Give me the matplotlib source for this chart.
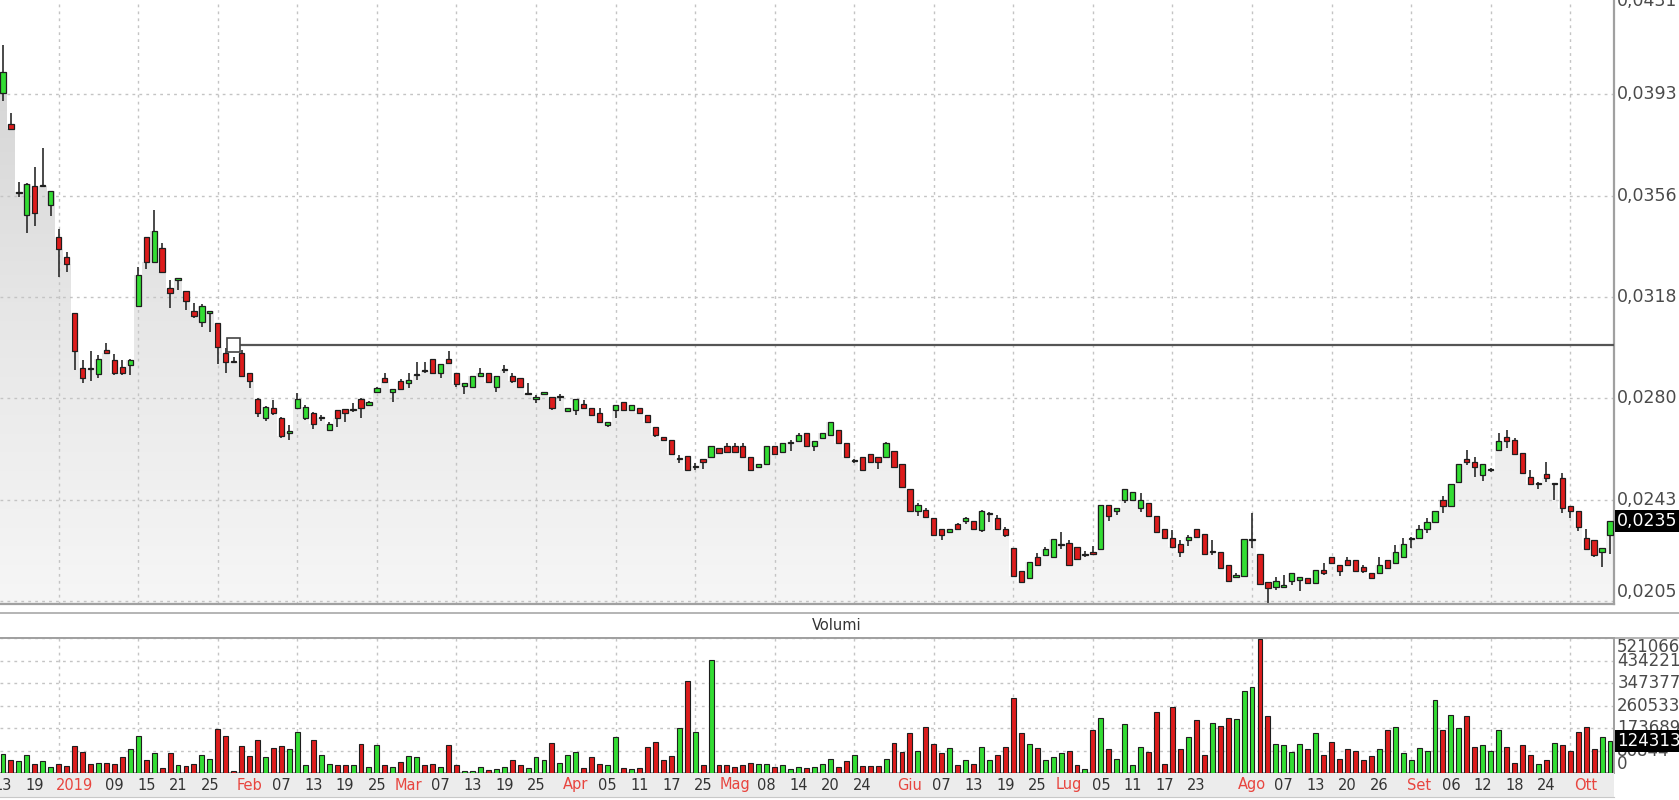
import numpy as np
import matplotlib
matplotlib.use("Agg")
import matplotlib.pyplot as plt
import matplotlib.transforms as mtransforms
from matplotlib.patches import Rectangle
from matplotlib.colors import LinearSegmentedColormap

plt.rcParams['font.family'] = ['DejaVu Sans']

# ---------------- data ----------------
opens = [
    0.03939, 0.03824, 0.03570, 0.03486, 0.03594, 0.03594, 0.03524, 0.03404, 0.03332, 0.03122,
    0.02920, 0.02920, 0.02896, 0.02985, 0.02948, 0.02921, 0.02930, 0.03149, 0.03404, 0.03314,
    0.03363, 0.03217, 0.03246, 0.03206, 0.03132, 0.03091, 0.03122, 0.03085, 0.02976, 0.02942,
    0.02976, 0.02901, 0.02802, 0.02734, 0.02771, 0.02734, 0.02679, 0.02771, 0.02734, 0.02753,
    0.02733, 0.02688, 0.02763, 0.02766, 0.02762, 0.02802, 0.02781, 0.02831, 0.02883, 0.02831,
    0.02872, 0.02862, 0.02891, 0.02909, 0.02951, 0.02899, 0.02951, 0.02901, 0.02853, 0.02849,
    0.02890, 0.02901, 0.02849, 0.02910, 0.02890, 0.02880, 0.02821, 0.02802, 0.02824, 0.02812,
    0.02811, 0.02760, 0.02763, 0.02785, 0.02772, 0.02753, 0.02707, 0.02763, 0.02794, 0.02763,
    0.02772, 0.02743, 0.02701, 0.02664, 0.02651, 0.02579, 0.02592, 0.02551, 0.02579, 0.02587,
    0.02620, 0.02630, 0.02630, 0.02630, 0.02589, 0.02550, 0.02561, 0.02630, 0.02608, 0.02641,
    0.02649, 0.02678, 0.02629, 0.02660, 0.02670, 0.02688, 0.02639, 0.02572, 0.02589, 0.02599,
    0.02589, 0.02589, 0.02610, 0.02561, 0.02468, 0.02389, 0.02391, 0.02360, 0.02319, 0.02309,
    0.02339, 0.02350, 0.02350, 0.02317, 0.02375, 0.02360, 0.02320, 0.02249, 0.02166, 0.02137,
    0.02218, 0.02224, 0.02215, 0.02260, 0.02267, 0.02255, 0.02225, 0.02236, 0.02245, 0.02410,
    0.02389, 0.02428, 0.02428, 0.02397, 0.02418, 0.02369, 0.02319, 0.02289, 0.02265, 0.02280,
    0.02319, 0.02302, 0.02235, 0.02236, 0.02187, 0.02141, 0.02146, 0.02278, 0.02226, 0.02125,
    0.02106, 0.02107, 0.02128, 0.02133, 0.02137, 0.02119, 0.02168, 0.02215, 0.02187, 0.02205,
    0.02205, 0.02178, 0.02158, 0.02156, 0.02205, 0.02195, 0.02218, 0.02282, 0.02289, 0.02319,
    0.02348, 0.02428, 0.02406, 0.02496, 0.02581, 0.02571, 0.02521, 0.02538, 0.02616, 0.02661,
    0.02651, 0.02602, 0.02512, 0.02489, 0.02524, 0.02489, 0.02511, 0.02406, 0.02389, 0.02289,
    0.02280, 0.02236, 0.02298]

highs = [
    0.04119, 0.03867, 0.03611, 0.03607, 0.03667, 0.03735, 0.03576, 0.03435, 0.03351, 0.03122,
    0.02948, 0.02983, 0.02967, 0.03010, 0.02971, 0.02948, 0.02951, 0.03293, 0.03407, 0.03506,
    0.03382, 0.03246, 0.03254, 0.03206, 0.03159, 0.03156, 0.03132, 0.03085, 0.02992, 0.02961,
    0.02985, 0.02901, 0.02806, 0.02777, 0.02800, 0.02736, 0.02707, 0.02825, 0.02781, 0.02756,
    0.02744, 0.02719, 0.02763, 0.02766, 0.02790, 0.02806, 0.02797, 0.02849, 0.02899, 0.02841,
    0.02877, 0.02899, 0.02940, 0.02940, 0.02951, 0.02932, 0.02983, 0.02901, 0.02862, 0.02890,
    0.02917, 0.02901, 0.02890, 0.02930, 0.02899, 0.02880, 0.02862, 0.02818, 0.02831, 0.02812,
    0.02822, 0.02772, 0.02802, 0.02800, 0.02772, 0.02769, 0.02719, 0.02781, 0.02794, 0.02781,
    0.02772, 0.02743, 0.02701, 0.02664, 0.02651, 0.02595, 0.02592, 0.02564, 0.02579, 0.02630,
    0.02620, 0.02639, 0.02639, 0.02639, 0.02589, 0.02562, 0.02630, 0.02630, 0.02641, 0.02651,
    0.02678, 0.02678, 0.02649, 0.02678, 0.02717, 0.02688, 0.02639, 0.02579, 0.02589, 0.02599,
    0.02589, 0.02645, 0.02610, 0.02561, 0.02468, 0.02416, 0.02397, 0.02360, 0.02319, 0.02319,
    0.02344, 0.02366, 0.02350, 0.02391, 0.02385, 0.02372, 0.02329, 0.02249, 0.02166, 0.02197,
    0.02233, 0.02252, 0.02282, 0.02311, 0.02280, 0.02255, 0.02240, 0.02257, 0.02410, 0.02410,
    0.02397, 0.02468, 0.02459, 0.02455, 0.02418, 0.02369, 0.02319, 0.02317, 0.02280, 0.02298,
    0.02319, 0.02302, 0.02280, 0.02236, 0.02187, 0.02158, 0.02282, 0.02379, 0.02226, 0.02125,
    0.02143, 0.02150, 0.02156, 0.02141, 0.02137, 0.02168, 0.02193, 0.02215, 0.02187, 0.02218,
    0.02205, 0.02187, 0.02158, 0.02215, 0.02205, 0.02261, 0.02286, 0.02292, 0.02335, 0.02360,
    0.02389, 0.02443, 0.02486, 0.02561, 0.02616, 0.02589, 0.02562, 0.02548, 0.02676, 0.02688,
    0.02657, 0.02602, 0.02540, 0.02496, 0.02571, 0.02490, 0.02530, 0.02406, 0.02389, 0.02319,
    0.02280, 0.02249, 0.02350]

lows = [
    0.03912, 0.03803, 0.03555, 0.03419, 0.03447, 0.03590, 0.03485, 0.03256, 0.03274, 0.02911,
    0.02862, 0.02872, 0.02880, 0.02973, 0.02893, 0.02893, 0.02893, 0.03147, 0.03285, 0.03308,
    0.03274, 0.03143, 0.03208, 0.03134, 0.03103, 0.03072, 0.03054, 0.02934, 0.02901, 0.02938,
    0.02886, 0.02843, 0.02738, 0.02723, 0.02744, 0.02657, 0.02651, 0.02769, 0.02725, 0.02691,
    0.02722, 0.02688, 0.02701, 0.02719, 0.02756, 0.02732, 0.02777, 0.02825, 0.02862, 0.02794,
    0.02837, 0.02843, 0.02874, 0.02899, 0.02896, 0.02880, 0.02938, 0.02849, 0.02822, 0.02849,
    0.02890, 0.02868, 0.02831, 0.02901, 0.02862, 0.02843, 0.02821, 0.02787, 0.02821, 0.02763,
    0.02796, 0.02756, 0.02744, 0.02769, 0.02744, 0.02713, 0.02701, 0.02732, 0.02763, 0.02763,
    0.02750, 0.02719, 0.02664, 0.02651, 0.02595, 0.02564, 0.02540, 0.02540, 0.02542, 0.02587,
    0.02602, 0.02605, 0.02605, 0.02589, 0.02540, 0.02550, 0.02561, 0.02599, 0.02602, 0.02610,
    0.02645, 0.02629, 0.02610, 0.02654, 0.02670, 0.02639, 0.02589, 0.02564, 0.02540, 0.02571,
    0.02542, 0.02589, 0.02550, 0.02475, 0.02389, 0.02369, 0.02360, 0.02298, 0.02280, 0.02304,
    0.02319, 0.02338, 0.02319, 0.02311, 0.02348, 0.02319, 0.02292, 0.02146, 0.02119, 0.02137,
    0.02187, 0.02224, 0.02215, 0.02245, 0.02187, 0.02208, 0.02218, 0.02226, 0.02245, 0.02350,
    0.02372, 0.02418, 0.02428, 0.02385, 0.02370, 0.02311, 0.02289, 0.02255, 0.02218, 0.02257,
    0.02292, 0.02226, 0.02224, 0.02174, 0.02128, 0.02141, 0.02146, 0.02249, 0.02116, 0.02044,
    0.02094, 0.02100, 0.02112, 0.02091, 0.02119, 0.02119, 0.02150, 0.02195, 0.02146, 0.02187,
    0.02166, 0.02158, 0.02137, 0.02156, 0.02177, 0.02195, 0.02218, 0.02249, 0.02289, 0.02304,
    0.02348, 0.02379, 0.02406, 0.02496, 0.02558, 0.02512, 0.02499, 0.02531, 0.02612, 0.02620,
    0.02599, 0.02530, 0.02486, 0.02468, 0.02496, 0.02428, 0.02381, 0.02360, 0.02314, 0.02246,
    0.02218, 0.02178, 0.02228]

closes = [
    0.04017, 0.03805, 0.03574, 0.03602, 0.03495, 0.03595, 0.03575, 0.03361, 0.03304, 0.02983,
    0.02880, 0.02914, 0.02951, 0.02976, 0.02899, 0.02901, 0.02948, 0.03264, 0.03314, 0.03429,
    0.03274, 0.03196, 0.03254, 0.03169, 0.03112, 0.03150, 0.03132, 0.02995, 0.02942, 0.02940,
    0.02889, 0.02872, 0.02753, 0.02775, 0.02753, 0.02666, 0.02680, 0.02803, 0.02775, 0.02709,
    0.02734, 0.02709, 0.02732, 0.02753, 0.02763, 0.02772, 0.02794, 0.02843, 0.02868, 0.02841,
    0.02841, 0.02874, 0.02894, 0.02906, 0.02899, 0.02932, 0.02938, 0.02859, 0.02862, 0.02890,
    0.02901, 0.02868, 0.02890, 0.02912, 0.02870, 0.02849, 0.02822, 0.02812, 0.02825, 0.02769,
    0.02812, 0.02772, 0.02802, 0.02772, 0.02744, 0.02719, 0.02719, 0.02781, 0.02763, 0.02781,
    0.02750, 0.02719, 0.02670, 0.02651, 0.02598, 0.02582, 0.02540, 0.02553, 0.02571, 0.02630,
    0.02602, 0.02605, 0.02605, 0.02589, 0.02540, 0.02562, 0.02630, 0.02599, 0.02641, 0.02644,
    0.02670, 0.02629, 0.02649, 0.02678, 0.02717, 0.02639, 0.02589, 0.02574, 0.02540, 0.02571,
    0.02571, 0.02639, 0.02550, 0.02475, 0.02389, 0.02410, 0.02366, 0.02298, 0.02298, 0.02319,
    0.02319, 0.02360, 0.02319, 0.02389, 0.02377, 0.02319, 0.02298, 0.02146, 0.02125, 0.02197,
    0.02187, 0.02246, 0.02282, 0.02262, 0.02187, 0.02208, 0.02228, 0.02226, 0.02410, 0.02369,
    0.02397, 0.02468, 0.02459, 0.02428, 0.02370, 0.02311, 0.02289, 0.02255, 0.02236, 0.02292,
    0.02292, 0.02226, 0.02237, 0.02174, 0.02128, 0.02150, 0.02282, 0.02281, 0.02116, 0.02100,
    0.02127, 0.02110, 0.02156, 0.02141, 0.02119, 0.02168, 0.02158, 0.02195, 0.02166, 0.02187,
    0.02166, 0.02166, 0.02137, 0.02187, 0.02177, 0.02236, 0.02265, 0.02285, 0.02319, 0.02348,
    0.02389, 0.02407, 0.02486, 0.02561, 0.02568, 0.02550, 0.02562, 0.02541, 0.02649, 0.02649,
    0.02599, 0.02530, 0.02486, 0.02491, 0.02511, 0.02490, 0.02397, 0.02389, 0.02329, 0.02246,
    0.02224, 0.02249, 0.02350]

volumes = [
    74623, 48891, 45031, 70763, 36025, 45031, 23159, 36025, 27019, 102928,
    81056, 36025, 39885, 39885, 36025, 60470, 91349, 142813, 51464, 75909,
    19299, 75909, 29592, 28305, 36025, 70763, 55324, 168545, 141526, 7720,
    102928, 66903, 127373, 60470, 96495, 105501, 92635, 156965, 29592, 127373,
    70763, 36025, 29592, 29592, 29592, 111934, 23159, 106788, 29592, 23159,
    41171, 65617, 60470, 29592, 36025, 23159, 106788, 29592, 7720, 7720,
    23159, 12866, 14153, 23159, 50177, 29592, 19299, 60470, 50177, 117081,
    39885, 70763, 81056, 19299, 60470, 36025, 29592, 137666, 19299, 14153,
    19299, 101641, 120940, 50177, 65617, 173691, 353815, 156965, 29592, 434871,
    29592, 29592, 23159, 29592, 39885, 36025, 36025, 23159, 29592, 14153,
    23159, 19299, 23159, 36025, 55324, 23159, 45031, 70763, 25732, 25732,
    25732, 55324, 117081, 81056, 153105, 86202, 177551, 111934, 75909, 96495,
    29592, 50177, 36025, 101641, 50177, 70763, 101641, 290772, 153105, 111934,
    96495, 50177, 60470, 75909, 86202, 29592, 14153, 167258, 213576, 91349,
    55324, 187844, 29592, 101641, 81056, 234161, 34738, 254747, 91349, 137666,
    203283, 70763, 192990, 182697, 213576, 209716, 316504, 331943, 515927, 218722,
    111934, 106788, 81056, 111934, 91349, 153105, 70763, 120940, 55324, 91349,
    86202, 50177, 65617, 91349, 167258, 177551, 75909, 50177, 96495, 86202,
    280479, 167258, 223868, 172404, 218722, 101641, 106788, 86202, 167258, 101641,
    39885, 106788, 70763, 34738, 50177, 117081, 106788, 86202, 156965, 177551,
    91349, 137666, 124313]

date_pos = [0, 4, 9, 14, 18, 22, 26, 31, 35, 39, 43, 47, 51, 55, 59, 63, 67, 72, 76, 80,
            84, 88, 92, 96, 100, 104, 108, 114, 118, 122, 126, 130, 134, 138, 142, 146, 150,
            157, 161, 165, 169, 173, 178, 182, 186, 190, 194, 199]
date_text = ["13", "19", "2019", "09", "15", "21", "25", "Feb", "07", "13", "19", "25", "Mar",
             "07", "13", "19", "25", "Apr", "05", "11", "17", "25", "Mag", "08", "14", "20",
             "24", "Giu", "07", "13", "19", "25", "Lug", "05", "11", "17", "23", "Ago", "07",
             "13", "20", "26", "Set", "06", "12", "18", "24", "Ott"]
month_text = ["2019", "Feb", "Mar", "Apr", "Mag", "Giu", "Lug", "Ago", "Set", "Ott"]

price_ticks = [0.02053, 0.02429, 0.02806, 0.03182, 0.03559, 0.03935, 0.04312]
price_labels = ["0,0205", "0,0243", "0,0280", "0,0318", "0,0356", "0,0393", "0,0431"]
vol_ticks = [0, 86844, 173689, 260533, 347377, 434221, 521066]
last_price = 0.0235
last_price_label = "0,0235"
last_volume = 124313
hline_level = 0.03004
hline_start = 29

# ---------------- styling ----------------
GREEN = '#33dd33'
RED = '#dd1c1c'
EDGE = '#1e1e1e'
GRID = '#c4c4c4'
SPINE = '#a0a0a0'
LABEL = '#4a4a4a'
MONTH = '#e8453f'

W, H = 1679, 800
fig = plt.figure(figsize=(W / 100, H / 100), dpi=100)
fig.patch.set_facecolor('white')


def box(x0, y0, x1, y1):
    return [x0 / W, 1 - y1 / H, (x1 - x0) / W, (y1 - y0) / H]


n = len(closes)
x = np.arange(n)
o = np.array(opens); h = np.array(highs); l = np.array(lows); c = np.array(closes)
up = c >= o
cols = np.where(up, GREEN, RED)
XL = (-0.377, 202.5)
PY = (0.02042, 0.04286)

# ---------------- price panel ----------------
ax = fig.add_axes(box(0, 0, 1614, 604))
ax.set_facecolor('white')

xs = np.concatenate([[XL[0] - 2], x, [XL[1] + 2]])
ys = np.concatenate([[c[0]], c, [c[-1]]])
poly = ax.fill_between(xs, ys, PY[0], step='mid', facecolor='none', edgecolor='none')
grad = np.linspace(0, 1, 256).reshape(-1, 1)
cmap = LinearSegmentedColormap.from_list('g', ['#f6f6f6', '#e6e6e6', '#d0d0d0'])
im = ax.imshow(grad, extent=[XL[0], XL[1], PY[0], PY[1]], origin='lower', aspect='auto',
               cmap=cmap, zorder=0.5, interpolation='bilinear')
im.set_clip_path(poly.get_paths()[0], transform=ax.transData)

dot = (0, (2, 3))
for gx in range(7, n, 10):
    ax.axvline(gx, color=GRID, lw=1, ls=dot, zorder=1)
for p in price_ticks:
    ax.axhline(p, color=GRID, lw=1, ls=dot, zorder=1)

ax.vlines(x, l, h, color='#2a2a2a', lw=1.2, zorder=2)
bot = np.minimum(o, c)
ht = np.maximum(np.abs(c - o), 0.00004)
ax.bar(x, ht, 0.66, bottom=bot, color=cols, edgecolor=EDGE, linewidth=0.9, zorder=3)

ax.hlines(hline_level, hline_start + 0.8, XL[1], color='#555555', lw=1.6, zorder=4)
ax.add_patch(Rectangle((hline_start - 0.8, hline_level - 0.00026), 1.6, 0.00052,
                       facecolor='none', edgecolor='#444444', lw=1.2, zorder=4))

ax.set_xlim(*XL)
ax.set_ylim(*PY)
ax.set_xticks([]); ax.set_yticks([])
for s in ['left', 'top']:
    ax.spines[s].set_visible(False)
for s in ['right', 'bottom']:
    ax.spines[s].set_color(SPINE)
    ax.spines[s].set_linewidth(1.6)

ytr = ax.get_yaxis_transform()
top_tr = mtransforms.offset_copy(ytr, fig=fig, x=0, y=-5.5, units='points')
for k, (p, lab) in enumerate(zip(price_ticks, price_labels)):
    if k == 0:
        ax.text(1.002, p, lab, transform=ytr, ha='left', va='bottom',
                fontsize=12.5, color=LABEL, clip_on=False)
    elif k == len(price_ticks) - 1:
        ax.text(1.002, p, lab, transform=top_tr, ha='left', va='center',
                fontsize=12.5, color=LABEL, clip_on=False)
    else:
        ax.text(1.002, p, lab, transform=ytr, ha='left', va='center',
                fontsize=12.5, color=LABEL, clip_on=False)
ax.text(1.002, last_price, last_price_label, transform=ytr, ha='left',
        va='center', fontsize=12.5, color='white', clip_on=False, zorder=10,
        bbox=dict(facecolor='black', edgecolor='none', boxstyle='square,pad=0.12'))

# ---------------- separator + header ----------------
axh = fig.add_axes(box(0, 612.5, 1679, 637.5))
axh.set_facecolor('white')
axh.set_xticks([]); axh.set_yticks([])
for s in ['left', 'right']:
    axh.spines[s].set_visible(False)
for s in ['top', 'bottom']:
    axh.spines[s].set_color('#b4b4b4')
    axh.spines[s].set_linewidth(1.4)
axh.text(837 / W, 0.5, 'Volumi', transform=axh.transAxes, ha='center', va='center',
         fontsize=10.5, color='#333333')

# ---------------- volume panel ----------------
axv = fig.add_axes(box(0, 637.5, 1614, 773))
axv.set_facecolor('white')
for gx in range(7, n, 10):
    axv.axvline(gx, color=GRID, lw=1, ls=dot, zorder=1)
for v in vol_ticks[1:]:
    axv.axhline(v, color=GRID, lw=1, ls=dot, zorder=1)
axv.bar(x, volumes, 0.62, color=cols, edgecolor=EDGE, linewidth=0.8, zorder=3)
axv.set_xlim(*XL)
axv.set_ylim(0, 523000)
axv.set_xticks([]); axv.set_yticks([])
axv.spines['left'].set_visible(False)
for s in ['right', 'bottom', 'top']:
    axv.spines[s].set_color(SPINE)
    axv.spines[s].set_linewidth(1.4)
vtr = axv.get_yaxis_transform()
for k, v in enumerate(vol_ticks):
    va = 'center'
    if k == 0:
        va = 'bottom'
    elif k == len(vol_ticks) - 1:
        va = 'top'
    axv.text(1.002, v, f"{v}", transform=vtr, ha='left', va=va, fontsize=12,
             color=LABEL, clip_on=False)
axv.text(1.002, last_volume, f"{last_volume}", transform=vtr, ha='left', va='center',
         fontsize=12, color='white', clip_on=False, zorder=10,
         bbox=dict(facecolor='black', edgecolor='none', boxstyle='square,pad=0.12'))

# ---------------- date band ----------------
axd = fig.add_axes(box(0, 773, 1614, 797))
axd.set_facecolor('#ececec')
axd.set_xlim(*XL); axd.set_ylim(0, 1)
axd.set_xticks([]); axd.set_yticks([])
for s in ['left', 'top', 'right']:
    axd.spines[s].set_visible(False)
axd.spines['bottom'].set_color('#c8c8c8')
for pos, txt in zip(date_pos, date_text):
    axd.text(pos, 0.5, txt, ha='center', va='center', fontsize=10.5,
             color=MONTH if txt in month_text else '#333333')

fig.savefig('out.png', dpi=100, facecolor='white')
